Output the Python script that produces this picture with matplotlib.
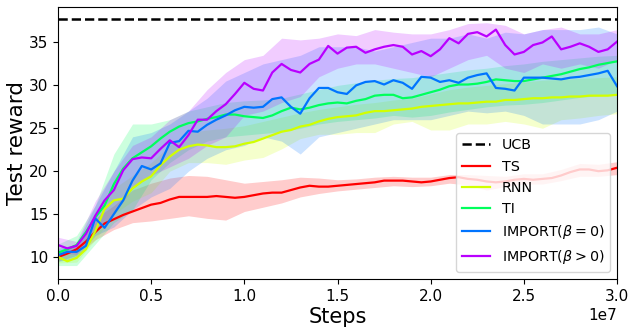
import numpy as np
import matplotlib
matplotlib.use("Agg")
from matplotlib import pyplot as plt

# mean curves, sampled every 0.05e7 steps
steps = np.arange(61) * 0.05e7

ts = [10.0, 10.4, 10.9, 11.8, 12.9, 13.9, 14.4, 14.9, 15.3, 15.7,
      16.1, 16.3, 16.7, 17.0, 17.0, 17.0, 17.0, 17.1, 17.0, 16.9,
      17.0, 17.2, 17.4, 17.5, 17.5, 17.8, 18.1, 18.3, 18.2, 18.2,
      18.3, 18.4, 18.5, 18.6, 18.7, 18.9, 18.9, 18.9, 18.8, 18.7,
      18.8, 19.0, 19.2, 19.3, 19.1, 19.0, 18.8, 18.7, 18.8, 19.0,
      19.1, 19.0, 19.1, 19.2, 19.5, 19.9, 20.2, 20.2, 20.0, 20.1, 20.4]
rnn = [10.0, 9.5, 9.9, 10.9, 13.0, 15.6, 16.6, 16.8, 18.0, 18.8,
       19.4, 20.7, 21.7, 22.5, 22.9, 23.1, 23.0, 22.8, 22.8, 22.9,
       23.2, 23.4, 23.8, 24.2, 24.6, 24.8, 25.2, 25.4, 25.8, 26.1,
       26.3, 26.4, 26.5, 26.8, 27.0, 27.0, 27.1, 27.2, 27.3, 27.5,
       27.6, 27.7, 27.8, 27.9, 27.9, 28.0, 28.1, 28.1, 28.3, 28.3,
       28.4, 28.5, 28.5, 28.6, 28.6, 28.7, 28.7, 28.8, 28.8, 28.8, 28.9]
ti = [10.5, 10.9, 11.4, 12.9, 14.6, 16.0, 18.5, 20.3, 21.5, 22.2,
      22.9, 23.8, 24.6, 25.2, 25.6, 25.8, 26.1, 26.3, 26.6, 26.6,
      26.4, 26.3, 26.2, 26.5, 27.0, 27.4, 27.2, 27.4, 27.7, 27.9,
      28.0, 27.9, 28.2, 28.4, 28.8, 28.9, 28.9, 28.5, 28.6, 28.9,
      29.2, 29.5, 29.9, 30.1, 30.1, 30.2, 30.4, 30.7, 30.6, 30.5,
      30.5, 30.7, 30.9, 31.1, 31.3, 31.6, 31.9, 32.1, 32.4, 32.6, 32.8]
imp0 = [10.2, 10.6, 10.6, 11.3, 14.5, 13.4, 15.0, 16.6, 18.9, 20.6,
        20.2, 20.9, 23.3, 23.5, 24.7, 24.6, 25.4, 26.0, 26.5, 27.1,
        27.5, 27.4, 27.5, 28.4, 28.6, 27.5, 26.7, 28.5, 29.7, 29.7,
        29.2, 29.0, 30.0, 30.4, 30.5, 30.1, 30.6, 30.3, 29.6, 31.0,
        30.9, 30.4, 30.6, 30.3, 30.9, 31.2, 31.4, 29.7, 29.6, 29.4,
        30.9, 30.9, 30.9, 30.8, 30.7, 30.9, 31.0, 31.2, 31.4, 31.7, 29.9]
imp1 = [11.4, 11.0, 11.3, 12.7, 14.8, 16.6, 17.8, 20.1, 21.4, 21.6,
        21.5, 22.6, 23.6, 22.8, 24.2, 26.0, 26.0, 27.0, 27.8, 29.0,
        30.3, 29.6, 29.4, 31.5, 32.5, 31.8, 31.5, 32.5, 33.0, 34.6,
        33.7, 34.4, 34.5, 33.8, 34.2, 34.5, 34.7, 34.5, 33.6, 34.0,
        33.4, 34.2, 35.5, 34.9, 36.0, 36.2, 35.7, 36.5, 34.7, 33.6,
        33.9, 34.7, 35.0, 35.7, 34.2, 34.5, 34.9, 34.5, 33.9, 34.2, 35.1]

# shaded spread, sampled every 0.1e7 steps
band_steps = np.arange(31) * 0.1e7

ts_lo = [9.5, 10.2, 12.0, 13.2, 14.0, 14.2, 14.5, 14.8, 14.5, 14.3, 15.3,
         15.8, 16.3, 17.0, 17.4, 17.7, 17.9, 18.1, 18.3, 18.2, 18.3,
         18.6, 18.4, 17.8, 18.2, 18.5, 18.5, 18.9, 19.4, 19.4, 19.6]
ts_hi = [10.5, 11.6, 14.5, 16.0, 17.8, 18.6, 19.2, 19.5, 19.4, 19.0, 18.6,
         18.8, 19.0, 19.3, 19.2, 19.0, 19.1, 19.3, 19.4, 19.3, 19.3,
         19.6, 19.6, 19.5, 19.4, 19.7, 19.7, 20.2, 20.9, 20.8, 21.1]
rnn_lo = [9.3, 9.4, 12.0, 15.0, 16.5, 17.5, 20.0, 21.0, 21.0, 20.8, 21.3,
          21.6, 22.6, 23.8, 24.3, 24.3, 24.5, 24.5, 25.5, 25.8, 24.8,
          24.8, 25.5, 25.5, 25.8, 25.5, 25.0, 26.0, 26.2, 26.5, 26.7]
rnn_hi = [10.5, 10.6, 14.0, 18.0, 19.5, 21.0, 23.0, 24.5, 24.8, 25.0, 25.3,
          25.8, 26.3, 26.8, 27.2, 27.5, 27.8, 28.0, 28.3, 28.5, 29.0,
          29.5, 29.8, 30.0, 30.2, 30.4, 30.6, 30.7, 30.8, 30.9, 31.0]
ti_lo = [9.0, 9.0, 11.5, 14.0, 15.5, 19.0, 21.0, 22.5, 23.5, 24.0, 24.2,
         24.4, 24.6, 25.0, 25.5, 25.8, 26.0, 26.2, 26.5, 26.3, 26.5,
         26.9, 27.2, 27.5, 27.7, 27.8, 28.0, 28.3, 28.6, 28.8, 29.0]
ti_hi = [11.5, 12.5, 16.0, 22.0, 25.5, 25.5, 26.0, 27.0, 27.5, 28.0, 28.2,
         28.3, 28.5, 29.0, 29.5, 30.0, 30.3, 30.6, 30.8, 30.9, 31.2,
         31.5, 31.8, 32.0, 32.3, 32.5, 32.8, 33.0, 33.2, 33.4, 33.5]
imp0_lo = [9.5, 9.8, 12.5, 13.5, 15.5, 17.0, 18.0, 20.0, 21.5, 22.5, 23.0,
           24.0, 23.5, 22.0, 24.0, 24.5, 25.0, 25.5, 26.0, 26.0, 26.0,
           26.5, 27.0, 26.8, 27.0, 26.5, 25.5, 25.5, 25.5, 26.0, 27.0]
imp0_hi = [11.0, 11.5, 16.0, 20.0, 24.0, 24.5, 25.5, 27.0, 28.5, 30.5, 31.5,
           32.5, 33.0, 33.5, 34.5, 34.5, 34.5, 34.0, 34.5, 35.0, 35.5,
           35.5, 36.0, 35.5, 36.2, 36.0, 36.5, 36.5, 36.5, 36.8, 36.0]
imp1_lo = [10.5, 10.3, 13.0, 15.0, 18.0, 19.5, 20.5, 21.5, 23.0, 24.0, 26.5,
           27.0, 28.0, 28.7, 31.0, 32.0, 32.5, 32.5, 32.0, 31.5, 31.0,
           32.0, 33.0, 33.5, 32.0, 31.5, 32.5, 32.0, 32.5, 32.0, 33.0]
imp1_hi = [12.3, 11.8, 16.5, 20.0, 23.0, 24.0, 26.0, 27.0, 29.5, 31.5, 33.0,
           33.5, 35.5, 35.3, 35.5, 36.0, 35.8, 36.5, 36.2, 36.0, 36.0,
           36.5, 37.2, 37.3, 37.0, 36.0, 36.5, 36.8, 36.0, 36.0, 36.5]

ucb = 37.75

names = ['TS', 'RNN', 'TI', r'IMPORT($\beta = 0$)', r'IMPORT($\beta > 0$)']
means = [ts, rnn, ti, imp0, imp1]
lows = [ts_lo, rnn_lo, ti_lo, imp0_lo, imp1_lo]
highs = [ts_hi, rnn_hi, ti_hi, imp0_hi, imp1_hi]
colors = plt.cm.hsv(np.linspace(0, 1, 6)[:5])

fig = plt.figure(figsize=(6.35, 3.31), dpi=100)
ax = fig.add_axes([0.0913, 0.157, 0.8804, 0.822])

ax.axhline(ucb, color='k', linestyle='--', linewidth=1.8, label='UCB')
for name, m, lo, hi, c in zip(names, means, lows, highs, colors):
    ax.fill_between(band_steps, lo, hi, color=c, alpha=0.2, linewidth=0)
    ax.plot(steps, m, color=c, linewidth=1.6, label=name)

ax.set_xlim(0, 3e7)
ax.set_ylim(7.43, 39.14)
ax.set_yticks([10, 15, 20, 25, 30, 35])
ax.tick_params(labelsize=11)
ax.xaxis.get_offset_text().set_fontsize(11)
ax.set_xlabel('Steps', fontsize=15, labelpad=2)
ax.set_ylabel('Test reward', fontsize=15.5, labelpad=1)
ax.legend(loc='lower right', fontsize=10.3)

fig.savefig('out.png', dpi=100)
